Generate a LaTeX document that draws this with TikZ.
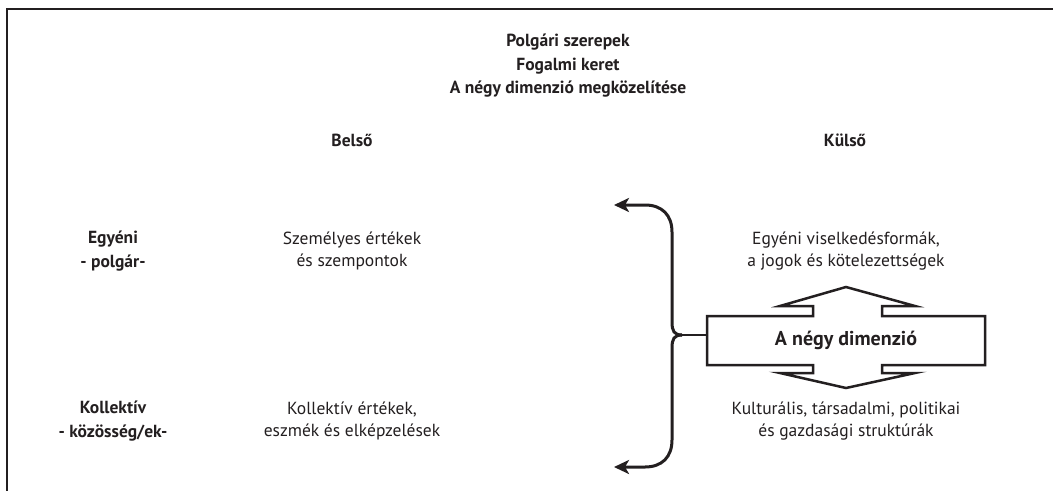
\documentclass[tikz,border=0pt]{standalone}
\usepackage{fontspec}
\setmainfont{PT Sans}
\usetikzlibrary{arrows.meta}
\definecolor{ink}{HTML}{231F20}
\tikzset{
  txt/.style={text=ink, align=center, inner sep=0pt, font=\fontsize{17.5}{22.5}\selectfont},
  bold/.style={txt, font=\fontsize{17.5}{23.5}\selectfont\bfseries},
  boxtext/.style={txt, font=\fontsize{20}{24}\selectfont\bfseries},
  bracestyle/.style={draw=ink, line width=3pt, -{Stealth[length=15pt,width=14pt,inset=4pt]}},
  boxline/.style={draw=ink, line width=2.5pt, line join=miter},
}
\begin{document}
\begin{tikzpicture}[x=1pt,y=-1pt]
\useasboundingbox (0,0) rectangle (1053,491);
\fill[white] (0,0) rectangle (1053,491);
% frame
\draw[ink, line width=2pt] (1053,9) -- (7,9) -- (7,491);
% title
\node[bold] (title) at (568,66) {Polgári szerepek\\Fogalmi keret\\A négy dimenzió megközelítése};
% column headers
\node[bold] (belso) at (352,140) {Belső};
\node[bold] (kulso) at (845,140) {Külső};
% row labels
\node[bold] (egyeni) at (113,251) {Egyéni\\- polgár-};
\node[bold] (koll) at (113,421) {Kollektív\\- közösség/ek-};
% inner column
\node[txt] (szem) at (352,251) {Személyes értékek\\és szempontok};
\node[txt] (kollert) at (352,421) {Kollektív értékek,\\eszmék és elképzelések};
% outer column
\node[txt] (visel) at (846,251) {Egyéni viselkedésformák,\\a jogok és kötelezettségek};
\node[txt] (kult) at (846,421) {Kulturális, társadalmi, politikai\\és gazdasági struktúrák};
% central box
\node[boxtext, minimum width=278pt, minimum height=49pt] (dim) at (846,340.5) {A négy dimenzió};
\draw[boxline] (707,316) -- (813,316) -- (813,306) -- (780,306) -- (846,287) -- (915,306) -- (882,306) -- (882,316) -- (985,316) -- (985,365) -- (882,365) -- (882,373) -- (915,373) -- (846,388) -- (780,373) -- (813,373) -- (813,365) -- (707,365) -- cycle;
% brace
\coordinate (cusp) at (682,335);
\coordinate (tipTop) at (614,205);
\coordinate (tipBot) at (614,467);
\draw[bracestyle] (cusp) .. controls (674,335) and (672,331) .. (672,322) -- (672,232) .. controls (672,215) and (662,205) .. (645,205) -- (tipTop);
\draw[bracestyle] (cusp) .. controls (674,335) and (672,339) .. (672,348) -- (672,440) .. controls (672,457) and (662,467) .. (645,467) -- (tipBot);
\draw[ink, line width=2.5pt] (cusp) -- (cusp -| dim.west);
\end{tikzpicture}
\end{document}
